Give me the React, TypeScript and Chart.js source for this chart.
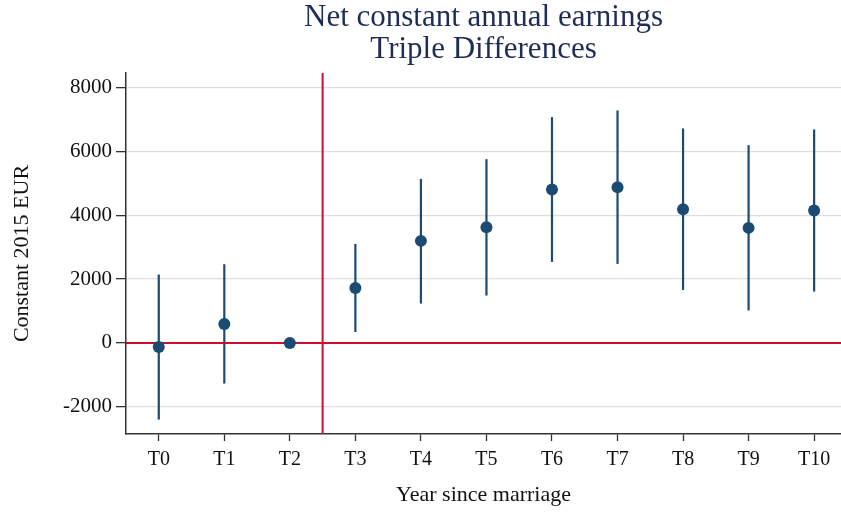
import React, { useEffect, useRef } from "react";
import { Chart, registerables } from "chart.js";

Chart.register(...registerables);

// Years since marriage
const periods = ["T0", "T1", "T2", "T3", "T4", "T5", "T6", "T7", "T8", "T9", "T10"];
// Point estimates (constant 2015 EUR)
const estimates = [-125, 595, 0, 1723, 3195, 3624, 4804, 4876, 4187, 3602, 4146];
// Lower and upper confidence bounds
const lowerBounds = [-2400, -1272, 0, 345, 1233, 1484, 2537, 2474, 1660, 1015, 1610];
const upperBounds = [2142, 2465, 0, 3100, 5136, 5753, 7068, 7278, 6714, 6192, 6683];
// Y-axis tick values
const yTicks = [-2000, 0, 2000, 4000, 6000, 8000];
// Reference lines: zero effect and the marriage cut-off between T2 and T3
const zeroLine = 0;
const cutoffLine = 2.5;

const SERIF = "'Liberation Serif', 'Times New Roman', serif";
const BLUE = "#1b4a73";
const RED = "#c8102e";

const intervalPlugin = {
  id: "intervals",
  beforeDatasetsDraw(chart: any) {
    const { ctx, chartArea, scales } = chart;
    const xs = scales.x;
    const ys = scales.y;
    ctx.save();
    ctx.beginPath();
    ctx.rect(chartArea.left, chartArea.top, chartArea.right - chartArea.left, chartArea.bottom - chartArea.top);
    ctx.clip();

    // confidence intervals
    ctx.strokeStyle = BLUE;
    ctx.lineWidth = 2.2;
    ctx.lineCap = "butt";
    periods.forEach((_, i) => {
      if (upperBounds[i] === lowerBounds[i]) return;
      const px = xs.getPixelForValue(i);
      ctx.beginPath();
      ctx.moveTo(px, ys.getPixelForValue(lowerBounds[i]));
      ctx.lineTo(px, ys.getPixelForValue(upperBounds[i]));
      ctx.stroke();
    });

    // reference lines
    ctx.strokeStyle = RED;
    ctx.lineWidth = 2;
    const y0 = ys.getPixelForValue(zeroLine);
    ctx.beginPath();
    ctx.moveTo(chartArea.left, y0);
    ctx.lineTo(chartArea.right, y0);
    ctx.stroke();
    const xc = xs.getPixelForValue(cutoffLine);
    ctx.beginPath();
    ctx.moveTo(xc, chartArea.top);
    ctx.lineTo(xc, chartArea.bottom);
    ctx.stroke();
    ctx.restore();
  },
};

export default function App() {
  const canvasRef = useRef<HTMLCanvasElement | null>(null);

  useEffect(() => {
    if (!canvasRef.current) return;
    const chart = new Chart(canvasRef.current, {
      type: "scatter",
      data: {
        datasets: [
          {
            label: "Estimate",
            data: estimates.map((v, i) => ({ x: i, y: v })),
            pointRadius: 6,
            pointHoverRadius: 6,
            pointBackgroundColor: BLUE,
            pointBorderWidth: 0,
            borderWidth: 0,
            showLine: false,
          },
        ],
      },
      options: {
        animation: false,
        responsive: false,
        maintainAspectRatio: false,
        devicePixelRatio: 1,
        layout: { padding: 0, autoPadding: false },
        plugins: {
          legend: { display: false },
          tooltip: { enabled: false },
          title: {
            display: true,
            fullSize: false,
            text: ["Net constant annual earnings", "Triple Differences"],
            color: "#1f2c55",
            font: { family: SERIF, size: 31, weight: "normal", lineHeight: 32 / 31 },
            padding: { top: 2, bottom: 7 },
          },
        },
        scales: {
          x: {
            type: "linear",
            min: -0.5,
            max: 10.41,
            afterBuildTicks: (scale: any) => {
              scale.ticks = periods.map((_, i) => ({ value: i }));
            },
            afterFit: (scale: any) => {
              scale.height = 78;
              scale.paddingLeft = 0;
              scale.paddingRight = 0;
            },
            ticks: {
              autoSkip: false,
              maxRotation: 0,
              padding: 7,
              color: "#111",
              font: { family: SERIF, size: 20 },
              callback: (v: any) => periods[Math.round(Number(v))] ?? "",
            },
            grid: {
              drawOnChartArea: false,
              tickLength: 7,
              tickColor: "#333",
              tickWidth: 1.3,
            },
            border: { display: true, color: "#333", width: 1.5 },
            title: {
              display: true,
              text: "Year since marriage",
              color: "#111",
              font: { family: SERIF, size: 22 },
              padding: { top: 6, bottom: 4 },
            },
          },
          y: {
            type: "linear",
            min: -2850,
            max: 8450,
            afterBuildTicks: (scale: any) => {
              scale.ticks = yTicks.map((v) => ({ value: v }));
            },
            afterFit: (scale: any) => {
              scale.width = 126;
              scale.paddingTop = 0;
              scale.paddingBottom = 0;
            },
            ticks: {
              padding: 4,
              color: "#111",
              font: { family: SERIF, size: 21 },
              callback: (v: any) => String(v),
            },
            grid: {
              color: "#dedede",
              lineWidth: 1.3,
              tickLength: 10,
              tickColor: "#333",
              tickWidth: 1.3,
            },
            border: { display: true, color: "#333", width: 1.5 },
            title: {
              display: true,
              text: "Constant 2015 EUR",
              color: "#111",
              font: { family: SERIF, size: 22 },
              padding: { top: 9, bottom: 0 },
            },
          },
        },
      },
      plugins: [intervalPlugin],
    });
    return () => chart.destroy();
  }, []);

  return (
    <div style={{ position: "fixed", left: 0, top: 0, width: 841, height: 512, background: "#fff" }}>
      <canvas ref={canvasRef} width={841} height={512} style={{ width: 841, height: 512, display: "block" }} />
    </div>
  );
}
